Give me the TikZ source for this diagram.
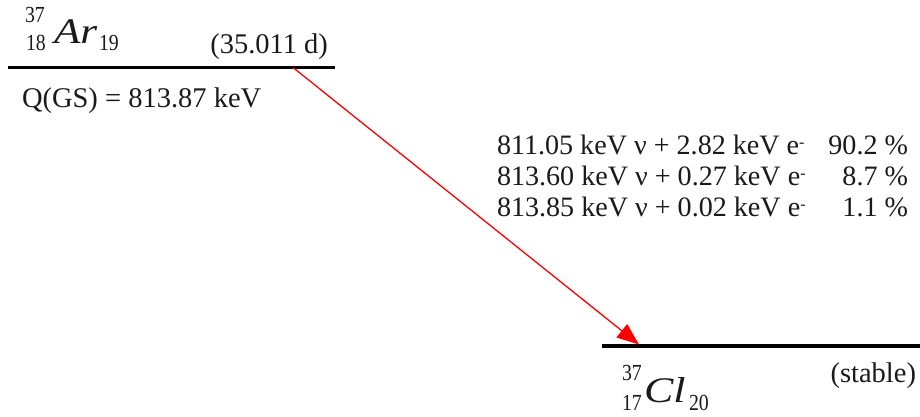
\documentclass[tikz,border=0pt]{standalone}
\usepackage{fontspec}
\setmainfont{Liberation Serif}
\usetikzlibrary{arrows.meta}
\definecolor{txt}{HTML}{1A1A1A}
\tikzset{
  lbl/.style={inner sep=0pt, outer sep=0pt, text=txt, font=\fontsize{28.5}{32}\selectfont},
  row/.style={inner sep=0pt, outer sep=0pt, text=txt, font=\fontsize{28.1}{32}\selectfont},
  idx/.style={inner sep=0pt, outer sep=0pt, text=txt, font=\fontsize{23}{27}\selectfont},
  elem/.style={inner sep=0pt, outer sep=0pt, text=txt, font=\fontsize{36}{40}\selectfont\itshape},
  level/.style={line width=3.2pt, black},
  decay/.style={red, line width=1.3pt, -{Triangle[length=22pt,width=17pt]}}
}
\newcommand{\elneg}{e\raisebox{0.55ex}{\fontsize{16}{18}\selectfont -}}
\newcommand{\nx}[1]{\scalebox{0.86}[1]{#1}}
\begin{document}
\begin{tikzpicture}[x=1pt,y=-1pt]
\useasboundingbox (0,0) rectangle (920,416);
% levels
\draw[level] (8,67.5) coordinate (p1) -- (335,67.5) coordinate (p2);
\draw[level] (602,346) coordinate (d1) -- (920,346) coordinate (d2);
\coordinate (s) at (293,67.5);
\coordinate (t) at (639,344.5);
\draw[decay] (s) -- (t);
% parent
\node[idx, anchor=base west] (ar37) at (25,22) {\nx{37}};
\node[idx, anchor=base west] (ar18) at (26,50) {\nx{18}};
\node[elem, anchor=base west] (ar) at (54,43.5) {\scalebox{1.2}[1]{Ar}};
\node[idx, anchor=base west] (ar19) at (99,50) {\nx{19}};
\node[lbl, anchor=base east] (hl) at (328,53) {(35.011 d)};
\node[lbl, anchor=base west] (q) at (22,107) {Q(GS) = 813.87 keV};
% branches
\node[row, anchor=base west] (r1) at (497,154.3) {811.05 keV ν + 2.82 keV \elneg};
\node[row, anchor=base west] (r2) at (497,185.3) {813.60 keV ν + 0.27 keV \elneg};
\node[row, anchor=base west] (r3) at (497,216.3) {813.85 keV ν + 0.02 keV \elneg};
\node[row, anchor=base east] (b1) at (908,154.3) {90.2 \%};
\node[row, anchor=base east] (b2) at (908,185.3) {8.7 \%};
\node[row, anchor=base east] (b3) at (908,216.3) {1.1 \%};
% daughter
\node[idx, anchor=base west] (cl37) at (622,380.5) {\nx{37}};
\node[idx, anchor=base west] (cl17) at (622,410) {\nx{17}};
\node[elem, anchor=base west] (cl) at (644,402) {\scalebox{1.22}[1]{Cl}};
\node[idx, anchor=base west] (cl20) at (689,410) {\nx{20}};
\node[lbl, anchor=base east] (st) at (916,382) {(stable)};
\end{tikzpicture}
\end{document}
